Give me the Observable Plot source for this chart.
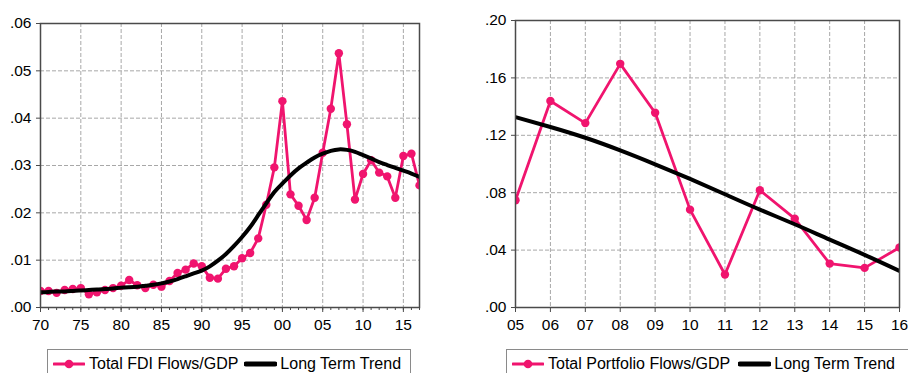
<!DOCTYPE html>
<html>
<head>
<meta charset="utf-8">
<script src="https://cdn.jsdelivr.net/npm/d3@7"></script>
<script src="https://cdn.jsdelivr.net/npm/@observablehq/plot@0.6"></script>
<style>
  html, body { margin: 0; padding: 0; background: #fff; }
  #wrap { position: relative; width: 908px; height: 373px; overflow: hidden; font-family: "Liberation Sans", Arial, sans-serif; }
  .panel { position: absolute; top: 0; }
  .legend { position: absolute; top: 349px; height: 40px; border: 1px solid #8a8a8a; box-sizing: border-box; background: #fff;
            display: flex; align-items: flex-start; font-size: 16px; color: #000; white-space: nowrap; }
  .legend .item { display: flex; align-items: center; height: 28px; }
  .legend svg { display: block; }
</style>
</head>
<body>
<div id="wrap">
  <div class="panel" id="left" style="left:0px;"></div>
  <div class="panel" id="right" style="left:460px;"></div>
  <div class="legend" id="legL" style="left:47px; width:364px;"></div>
  <div class="legend" id="legR" style="left:506px; width:420px;"></div>
</div>
<script>
// ---------- Data ----------
const fdiYears = [1970,1971,1972,1973,1974,1975,1976,1977,1978,1979,
  1980,1981,1982,1983,1984,1985,1986,1987,1988,1989,
  1990,1991,1992,1993,1994,1995,1996,1997,1998,1999,
  2000,2001,2002,2003,2004,2005,2006,2007,2008,2009,
  2010,2011,2012,2013,2014,2015,2016,2017];
const fdiFlows = [0.0035,0.0035,0.0031,0.0037,0.0039,0.0041,0.0028,0.0032,0.0037,0.0041,
  0.0046,0.0058,0.0047,0.0041,0.0048,0.0044,0.0056,0.0073,0.0080,0.0093,
  0.0087,0.0063,0.0061,0.0082,0.0087,0.0104,0.0115,0.0146,0.0217,0.0296,
  0.0436,0.0239,0.0215,0.0185,0.0232,0.0327,0.0420,0.0537,0.0387,0.0228,
  0.0282,0.0311,0.0285,0.0277,0.0232,0.0320,0.0325,0.0258];
const fdiTrend = [0.0032,0.0033,0.0034,0.0034,0.0035,0.0036,0.0037,0.0038,0.0039,0.0040,
  0.0042,0.0043,0.0044,0.0046,0.0048,0.0051,0.0055,0.0060,0.0066,0.0072,
  0.0078,0.0087,0.0099,0.0113,0.0130,0.0149,0.0170,0.0195,0.0220,0.0244,
  0.0262,0.0279,0.0294,0.0306,0.0317,0.0325,0.0331,0.0334,0.0333,0.0329,
  0.0322,0.0315,0.0307,0.0301,0.0295,0.0289,0.0283,0.0276];

const pfYears = [2005,2006,2007,2008,2009,2010,2011,2012,2013,2014,2015,2016];
const pfFlows = [0.0747,0.1439,0.1285,0.1698,0.1357,0.0682,0.0230,0.0817,0.0619,0.0306,0.0276,0.0418];
const pfTrend = [0.1327,0.1258,0.1183,0.1095,0.0998,0.0896,0.0789,0.0682,0.0580,0.0473,0.0367,0.0255];

const fdiYTicks = [0, 0.01, 0.02, 0.03, 0.04, 0.05, 0.06];
const fdiXTicks = [1970,1975,1980,1985,1990,1995,2000,2005,2010,2015];
const pfYTicks = [0, 0.04, 0.08, 0.12, 0.16, 0.20];

const labelFDI = "Total FDI Flows/GDP";
const labelPF = "Total Portfolio Flows/GDP";
const labelTrend = "Long Term Trend";

// ---------- Styles ----------
const PINK = "#f0146e";
const GRID = "#a8a8a8";
const FRAME = "#4a4a4a";
const FONT = "'Liberation Sans', Arial, sans-serif";
const FS = 15.5;

const yFmt = d => d3.format(".2f")(d).replace(/^0/, "");
const yyFmt = d => String(d % 100).padStart(2, "0");

const fdiData = fdiYears.map((y, i) => ({year: y, v: fdiFlows[i]}));
const fdiTrendData = fdiYears.map((y, i) => ({year: y, v: fdiTrend[i]}));
const pfData = pfYears.map((y, i) => ({year: y, v: pfFlows[i]}));
const pfTrendData = pfYears.map((y, i) => ({year: y, v: pfTrend[i]}));

function panel({width, height, mL, mR, mT, mB, xDomain, yDomain, yTicks, xMajor, xMinor, gridX, gridY, data, trend}) {
  const marks = [
    Plot.gridY(gridY, {stroke: GRID, strokeOpacity: 1, strokeWidth: 1, strokeDasharray: "4,2"}),
    Plot.gridX(gridX, {stroke: GRID, strokeOpacity: 1, strokeWidth: 1, strokeDasharray: "4,2"}),
    Plot.axisY(yTicks, {tickFormat: yFmt, tickSize: 4, tickPadding: 5, stroke: FRAME, label: null, fontSize: FS, fill: "#000"}),
  ];
  if (xMinor) marks.push(Plot.axisX(xMinor, {tickSize: 3, tickFormat: null, text: null, stroke: FRAME, label: null}));
  marks.push(
    Plot.axisX(xMajor, {tickSize: 5, tickPadding: 6, tickFormat: yyFmt, stroke: FRAME, label: null, fontSize: FS, fill: "#000"}),
    Plot.line(data, {x: "year", y: "v", stroke: PINK, strokeWidth: 2.8, clip: true}),
    Plot.dot(data, {x: "year", y: "v", r: 4.2, fill: PINK, stroke: "none", clip: true}),
    Plot.line(trend, {x: "year", y: "v", stroke: "#000", strokeWidth: 4, curve: "natural", clip: true}),
    Plot.frame({stroke: FRAME, strokeWidth: 1.5})
  );
  return Plot.plot({
    width, height, marginLeft: mL, marginRight: mR, marginTop: mT, marginBottom: mB,
    style: {fontFamily: FONT, fontSize: FS + "px", color: "#000", background: "transparent", overflow: "visible"},
    x: {domain: xDomain, label: null},
    y: {domain: yDomain, label: null},
    marks
  });
}

const left = panel({
  width: 460, height: 340, mL: 40, mR: 41, mT: 23, mB: 33,
  xDomain: [1970, 2017], yDomain: [0, 0.06],
  yTicks: fdiYTicks, xMajor: fdiXTicks, xMinor: fdiYears,
  gridX: fdiXTicks.filter(d => d !== 1970),
  gridY: fdiYTicks.filter(d => d !== 0 && d !== 0.06),
  data: fdiData, trend: fdiTrendData
});
document.getElementById("left").appendChild(left);

const right = panel({
  width: 448, height: 340, mL: 55, mR: 9, mT: 20, mB: 33,
  xDomain: [2005, 2016], yDomain: [0, 0.20],
  yTicks: pfYTicks, xMajor: pfYears, xMinor: null,
  gridX: pfYears.filter(d => d !== 2005 && d !== 2016),
  gridY: pfYTicks.filter(d => d !== 0 && d !== 0.20),
  data: pfData, trend: pfTrendData
});
document.getElementById("right").appendChild(right);

// ---------- Legends ----------
function legend(el, label, pad) {
  el.innerHTML = `
    <div class="item" style="margin-left:5px;">
      <svg width="32" height="14"><line x1="1" y1="7" x2="31" y2="7" stroke="${PINK}" stroke-width="3" stroke-linecap="round"/><circle cx="16" cy="7" r="4.3" fill="${PINK}"/></svg>
      <span style="margin-left:4px;">${label}</span>
    </div>
    <div class="item" style="margin-left:${pad}px;">
      <svg width="33" height="14"><line x1="2" y1="7" x2="31" y2="7" stroke="#000" stroke-width="5" stroke-linecap="round"/></svg>
      <span style="margin-left:3px;">${labelTrend}</span>
    </div>`;
}
legend(document.getElementById("legL"), labelFDI, 6);
legend(document.getElementById("legR"), labelPF, 8);
</script>
</body>
</html>
